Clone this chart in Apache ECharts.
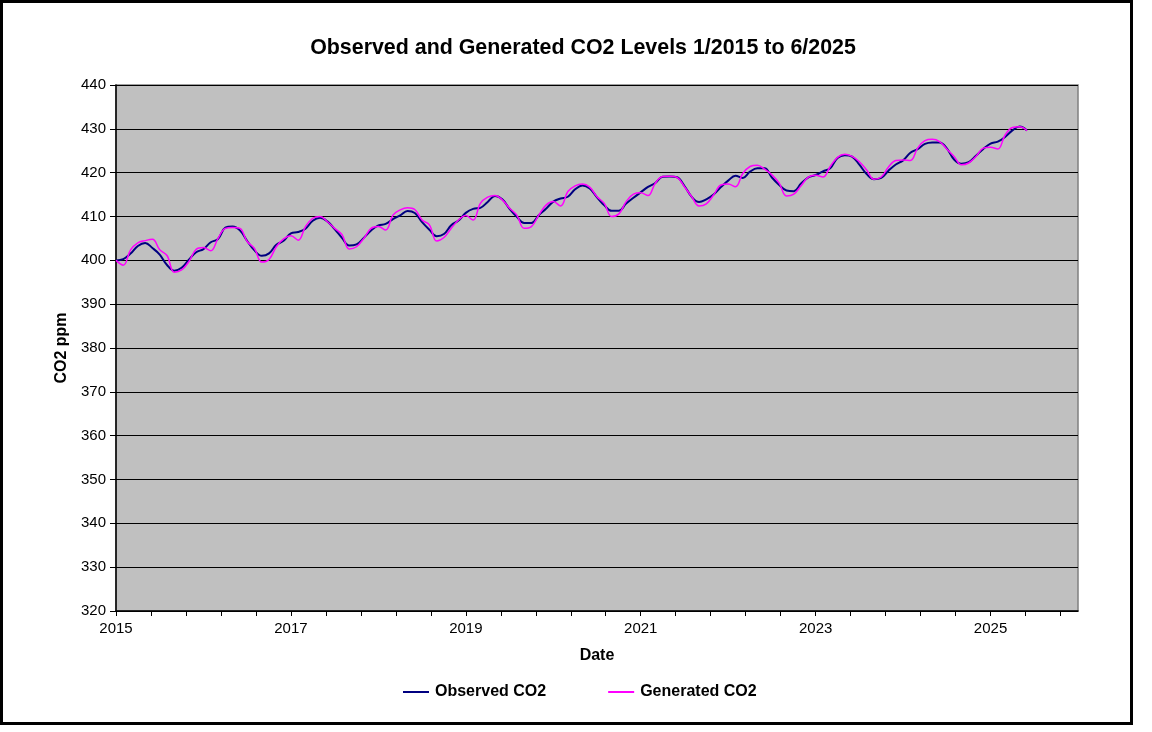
<!DOCTYPE html>
<html>
<head>
<meta charset="utf-8">
<script src="https://cdn.jsdelivr.net/npm/echarts@6/dist/echarts.min.js"></script>
<style>html,body{margin:0;padding:0;background:#fff;}#c{width:1152px;height:732px;}</style>
</head>
<body>
<div id="c"></div>
<script>
var startYear = 2015;
var observedCO2 = [
  399.98, 400.28, 401.54, 403.28, 403.96, 402.80, 401.31, 398.93, 397.63, 398.29, 400.16, 401.85,
  402.56, 404.12, 404.87, 407.45, 407.72, 406.83, 404.41, 402.27, 401.05, 401.59, 403.55, 404.45,
  406.17, 406.46, 407.22, 409.04, 409.69, 408.88, 407.12, 405.13, 403.37, 403.63, 405.12, 406.81,
  407.96, 408.32, 409.41, 410.24, 411.24, 410.79, 408.71, 406.99, 405.51, 406.00, 408.02, 409.07,
  410.83, 411.75, 411.97, 413.32, 414.66, 413.92, 411.77, 409.95, 408.54, 408.53, 410.27, 411.76,
  413.40, 414.11, 414.51, 416.21, 417.07, 416.39, 414.38, 412.55, 411.29, 411.30, 412.94, 414.26,
  415.52, 416.75, 417.64, 419.05, 419.13, 418.94, 416.96, 414.47, 413.30, 413.93, 415.01, 416.71,
  418.19, 419.28, 418.81, 420.23, 420.99, 420.99, 418.90, 417.19, 415.95, 415.78, 417.51, 418.95,
  419.47, 420.31, 420.99, 423.36, 424.00, 423.68, 421.83, 419.68, 418.51, 418.82, 420.46, 421.86,
  422.80, 424.55, 425.38, 426.57, 426.90, 426.91, 425.55, 422.99, 422.03, 422.38, 423.85, 425.40,
  426.65, 427.09, 428.15, 429.64, 430.51, 429.61
];
var generatedCO2 = [
  400.0, 398.9, 402.4, 404.0, 404.5, 404.8, 402.4, 401.1, 397.3, 397.8, 399.7, 402.5,
  402.9, 402.2, 405.0, 407.3, 407.5, 407.3, 404.3, 402.7, 399.6, 400.2, 403.1, 404.9,
  405.6, 404.6, 407.7, 409.6, 410.0, 408.8, 407.3, 405.9, 402.6, 403.1, 405.0, 407.3,
  407.7, 406.9, 410.3, 411.5, 412.0, 411.6, 409.2, 408.1, 404.4, 405.2, 407.3, 409.2,
  410.2, 409.2, 413.0, 414.4, 414.8, 413.8, 411.9, 410.3, 407.3, 407.7, 410.3, 412.6,
  413.4, 412.4, 415.7, 417.0, 417.4, 416.7, 414.5, 413.0, 410.0, 410.6, 413.4, 415.1,
  415.4, 414.8, 417.6, 419.1, 419.2, 418.9, 416.8, 414.5, 412.4, 412.9, 414.9, 417.2,
  417.4, 416.8, 419.8, 421.4, 421.7, 420.8, 419.5, 417.6, 414.7, 415.1, 417.0, 419.0,
  419.4, 419.0, 421.4, 423.5, 424.2, 423.7, 422.5, 420.6, 418.5, 419.0, 421.3, 422.8,
  422.9, 422.8, 425.6, 427.3, 427.6, 427.1, 425.4, 423.7, 421.8, 422.2, 423.7, 425.6,
  425.8, 425.4, 428.6, 430.3, 430.5, 429.6
];
var xLabelYears = [2015, 2017, 2019, 2021, 2023, 2025];
var xTickValues = [];
for (var t = 0; t < 28; t++) { xTickValues.push(Math.round((2015 + t * 0.4) * 10) / 10); }

function toPairs(arr) {
  return arr.map(function (v, i) { return [startYear + i / 12, v]; });
}

var chart = echarts.init(document.getElementById('c'));
var font = 'Liberation Sans, Arial, sans-serif';
chart.setOption({
  backgroundColor: '#ffffff',
  animation: false,
  title: {
    text: 'Observed and Generated CO2 Levels 1/2015 to 6/2025',
    left: 578, top: 33, textAlign: 'center',
    textStyle: { fontFamily: font, fontWeight: 'bold', fontSize: 21.4, color: '#000' }
  },
  graphic: [{
    type: 'rect', z: -1, silent: true,
    shape: { x: 1.5, y: 1.5, width: 1130, height: 722 },
    style: { fill: 'none', stroke: '#000', lineWidth: 3 }
  }],
  legend: {
    top: 679, left: 398,
    itemWidth: 26, itemHeight: 2, itemGap: 62,
    icon: 'rect',
    textStyle: { fontFamily: font, fontWeight: 'bold', fontSize: 16, color: '#000', padding: [0, 0, 0, 1] },
    data: ['Observed CO2', 'Generated CO2']
  },
  grid: {
    left: 116, top: 85, right: 74, bottom: 121,
    show: true, backgroundColor: '#C0C0C0', borderColor: '#808080', borderWidth: 1.5
  },
  xAxis: {
    type: 'value', min: 2015, max: 2026,
    name: 'Date', nameLocation: 'middle', nameGap: 37,
    nameTextStyle: { fontFamily: font, fontWeight: 'bold', fontSize: 16, color: '#000' },
    axisLine: { show: true, lineStyle: { color: '#000', width: 1.5 } },
    axisTick: { show: true, length: 5, customValues: xTickValues, lineStyle: { color: '#000' } },
    axisLabel: { customValues: xLabelYears, margin: 10, fontFamily: font, fontSize: 15, color: '#000',
      formatter: function (v) { return String(Math.round(v)); } },
    splitLine: { show: false }
  },
  yAxis: {
    type: 'value', min: 320, max: 440, interval: 10,
    name: 'CO2 ppm', nameLocation: 'middle', nameGap: 43,
    nameTextStyle: { fontFamily: font, fontWeight: 'bold', fontSize: 16, color: '#000' },
    axisLine: { show: true, lineStyle: { color: '#000', width: 1.5 } },
    axisTick: { show: true, length: 6, lineStyle: { color: '#000' } },
    axisLabel: { margin: 10, fontFamily: font, fontSize: 15, color: '#000' },
    splitLine: { show: true, lineStyle: { color: '#000', width: 1 } }
  },
  series: [
    {
      name: 'Observed CO2', type: 'line', data: toPairs(observedCO2),
      symbol: 'none', smooth: 0.4,
      lineStyle: { color: '#000080', width: 2 }, itemStyle: { color: '#000080' }, z: 2
    },
    {
      name: 'Generated CO2', type: 'line', data: toPairs(generatedCO2),
      symbol: 'none', smooth: 0.4,
      lineStyle: { color: '#FF00FF', width: 1.5 }, itemStyle: { color: '#FF00FF' }, z: 3
    }
  ]
});
</script>
</body>
</html>
